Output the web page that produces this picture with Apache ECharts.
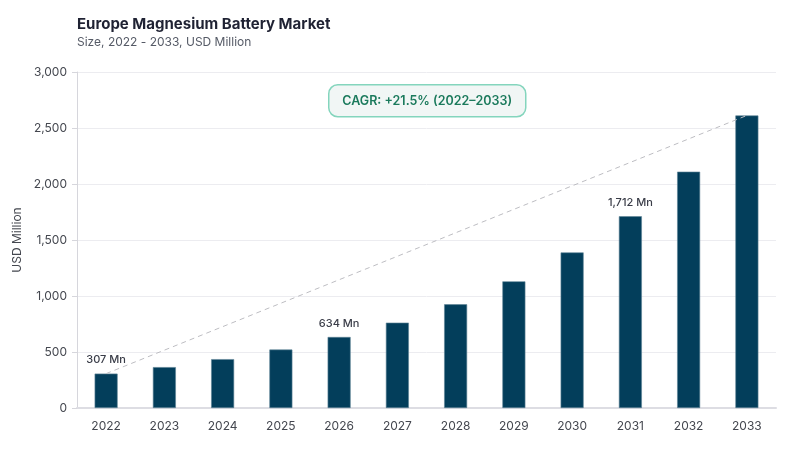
<!DOCTYPE html>
<html>
<head>
<meta charset="utf-8">
<script src="https://cdn.jsdelivr.net/npm/echarts@6/dist/echarts.min.js"></script>
<style>
  html, body { margin: 0; padding: 0; background: #fff; }
  #chart { width: 800px; height: 450px; }
</style>
</head>
<body>
<div id="chart"></div>
<script>
var years = ['2022', '2023', '2024', '2025', '2026', '2027', '2028', '2029', '2030', '2031', '2032', '2033'];
var marketSize = [307, 365, 436, 522, 634, 762, 926, 1131, 1389, 1712, 2110, 2612];
var labelledYears = ['2022', '2026', '2031'];
var yTicks = [0, 500, 1000, 1500, 2000, 2500, 3000];

// dashed trend line only joins the first and last bar
var trend = marketSize.map(function (v, i) {
    return (i === 0 || i === marketSize.length - 1) ? v : '-';
});

var font = 'Inter, "Noto Sans", sans-serif';

var dom = document.getElementById('chart');
var myChart = echarts.init(dom, null, { renderer: 'canvas' });

var option = {
    animation: false,
    textStyle: { fontFamily: font },
    title: {
        text: 'Europe Magnesium Battery Market',
        subtext: 'Size, 2022 - 2033, USD Million',
        left: 72,
        top: 12,
        itemGap: 4,
        textStyle: { fontSize: 15, fontWeight: 'bold', color: '#1f2233', fontFamily: font },
        subtextStyle: { fontSize: 12, color: '#555a66', fontFamily: font }
    },
    grid: { left: 77, right: 24, top: 72, bottom: 42 },
    xAxis: {
        type: 'category',
        data: years,
        axisLine: { lineStyle: { color: '#dddde3', width: 2 } },
        axisTick: { show: false },
        axisLabel: { color: '#44474f', fontSize: 12, margin: 12 }
    },
    yAxis: {
        type: 'value',
        min: yTicks[0],
        max: yTicks[yTicks.length - 1],
        interval: 500,
        name: 'USD Million',
        nameLocation: 'middle',
        nameGap: 47,
        nameTextStyle: { color: '#44474f', fontSize: 12 },
        axisLine: { show: true, lineStyle: { color: '#d6d6dc' } },
        axisTick: { show: true, length: 5, lineStyle: { color: '#d6d6dc' } },
        axisLabel: {
            color: '#44474f', fontSize: 12, margin: 10,
            formatter: function (v) { return v.toLocaleString('en-US'); }
        },
        splitLine: { lineStyle: { color: '#ececf0' } }
    },
    series: [
        {
            type: 'bar',
            data: marketSize,
            barWidth: 23,
            itemStyle: { color: '#033e5b', borderColor: '#5f8497', borderWidth: 0.6 },
            label: {
                show: true,
                position: 'top',
                distance: 8,
                color: '#3a3d48',
                fontSize: 11,
                fontWeight: 500,
                formatter: function (p) {
                    return labelledYears.indexOf(p.name) >= 0 ? p.value.toLocaleString('en-US') + ' Mn' : '';
                }
            },
            z: 2
        },
        {
            type: 'line',
            data: trend,
            connectNulls: true,
            symbol: 'none',
            lineStyle: { color: '#bdbdc2', width: 1, type: [5, 4] },
            z: 3
        }
    ],
    graphic: [
        {
            type: 'group',
            left: 328,
            top: 84,
            children: [
                {
                    type: 'rect',
                    shape: { x: 0, y: 0, width: 197, height: 32, r: 9 },
                    style: { fill: '#f1f6f5', stroke: '#84d5bd', lineWidth: 1.5 }
                },
                {
                    type: 'text',
                    style: {
                        x: 98.5, y: 16,
                        text: 'CAGR: +21.5% (2022\u20132033)',
                        fill: '#1b7a5c',
                        font: '600 12.5px ' + font,
                        align: 'center',
                        verticalAlign: 'middle'
                    }
                }
            ]
        }
    ]
};

myChart.setOption(option);
window.addEventListener('resize', myChart.resize);
</script>
</body>
</html>
